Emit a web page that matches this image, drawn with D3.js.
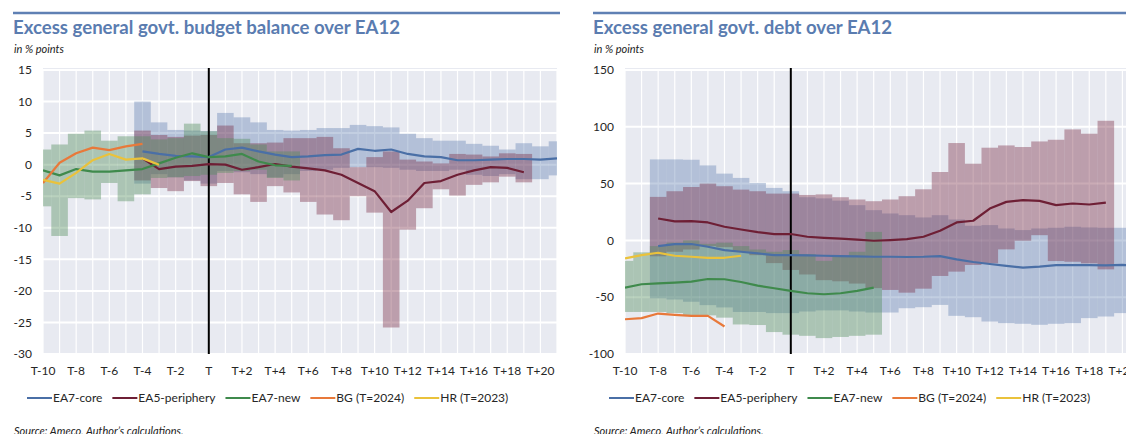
<!DOCTYPE html>
<html lang="en">
<head>
<meta charset="UTF-8">
<title>Excess general govt. budget balance and debt over EA12</title>
<script src="https://d3js.org/d3.v7.min.js"></script>
<style>
  body { margin: 0; background: #fff; font-family: Lato, "Open Sans", sans-serif; }
  .title { font-weight: 700; fill: #5a7cb0; font-size: 18.6px; }
  .unit { font-style: italic; fill: #222; font-size: 11px; }
  .source { font-style: italic; fill: #222; font-size: 11px; }
  .ylab, .xlab { fill: #262626; font-size: 12px; }
  .legend text { font-size: 12px; fill: #262626; }
</style>
</head>
<body>
<svg id="chart" width="1126" height="434"></svg>
<script>
// categories: years relative to euro adoption (T)
const periods = ["T-10","T-9","T-8","T-7","T-6","T-5","T-4","T-3","T-2","T-1","T",
  "T+1","T+2","T+3","T+4","T+5","T+6","T+7","T+8","T+9","T+10",
  "T+11","T+12","T+13","T+14","T+15","T+16","T+17","T+18","T+19","T+20","T+21"];
const tickLabels = ["T-10","T-8","T-6","T-4","T-2","T","T+2","T+4","T+6","T+8",
  "T+10","T+12","T+14","T+16","T+18","T+20"];
const seriesNames = ["EA7-core", "EA5-periphery", "EA7-new", "BG (T=2024)", "HR (T=2023)"];

// ---- budget balance (% points) ----
const balTicks = [-30, -25, -20, -15, -10, -5, 0, 5, 10, 15];
const balCoreStart = "T-4";
const balCoreMid = [2.1, 1.7, 1.4, 1.3, 1.2, 2.4, 2.7, 2.1, 1.6, 1.2, 1.3, 1.5, 1.6, 2.5, 2.2, 2.4, 1.7, 1.3, 1.2, 0.7, 0.7, 0.8, 0.9, 0.9, 0.8, 1.0];
const balCoreHi = [10.0, 6.7, 5.5, 5.4, 5.3, 8.2, 7.5, 6.7, 5.5, 5.4, 5.5, 5.8, 5.8, 6.3, 6.1, 5.9, 4.9, 4.2, 3.8, 3.8, 3.3, 3.0, 2.4, 3.4, 2.9, 3.7];
const balCoreLo = [-3.0, -1.5, -2.0, -2.5, -3.0, -1.0, -1.2, -1.5, -2.0, -1.5, -1.0, -0.8, -0.5, -0.4, -0.4, -0.5, -0.8, -1.0, -1.0, -0.8, -1.6, -1.8, -1.5, -2.3, -2.3, -1.7];
const balPeriStart = "T-4";
const balPeriMid = [1.0, -0.7, -0.3, -0.2, 0.1, 0.0, -0.8, -0.4, 0.1, -0.3, -0.6, -0.9, -1.6, -2.9, -4.2, -7.5, -5.7, -2.9, -2.6, -1.6, -0.9, -0.4, -0.5, -1.2];
const balPeriHi = [5.4, 4.7, 4.4, 4.6, 4.7, 6.2, 3.4, 3.4, 3.5, 4.2, 4.2, 4.4, 2.6, -0.4, 1.2, 2.1, 0.8, 0.5, 0.2, 1.7, 1.6, 1.3, 1.8, 1.7];
const balPeriLo = [-2.5, -3.7, -4.2, -2.6, -3.4, -2.9, -4.7, -5.9, -3.4, -4.4, -5.9, -7.9, -8.8, -5.0, -7.6, -25.8, -10.3, -6.9, -3.9, -4.9, -3.2, -2.8, -1.9, -2.8];
const balNewStart = "T-10";
const balNewMid = [-0.9, -1.7, -0.7, -1.1, -1.1, -0.9, -0.7, 0.2, 1.1, 1.8, 1.2, 1.3, 1.7, 0.5, -0.1, -0.2];
const balNewHi = [2.4, 3.2, 4.9, 5.4, 3.8, 4.5, 4.5, 4.0, 4.2, 6.5, 5.3, 4.2, 4.1, 3.2, 2.1, 2.1];
const balNewLo = [-6.6, -11.3, -5.3, -5.5, -2.9, -5.8, -4.7, -2.1, -2.0, -1.8, -1.6, -1.3, -1.0, -0.8, -2.1, -2.5];
const balBgStart = "T-10";
const balBg = [-2.9, 0.3, 1.8, 2.7, 2.3, 2.9, 3.3];
const balHrStart = "T-10";
const balHr = [-2.4, -3.0, -1.3, 0.7, 1.7, 0.8, 1.0, 0.0];

// ---- debt (% points) ----
const debtTicks = [-100, -50, 0, 50, 100, 150];
const debtCoreStart = "T-8";
const debtCoreMid = [-5, -3.2, -3.2, -5.6, -8.5, -10, -11.4, -12.9, -12.9, -13.2, -13.5, -13.8, -14, -14.4, -14.4, -14.6, -14.4, -13.8, -16.7, -19, -20.8, -22.5, -24, -23.1, -21.7, -21.7, -21.7, -22, -21.5, -23];
const debtCoreHi = [71.3, 71.3, 71, 66, 58.8, 55, 50.6, 46.2, 43.3, 38, 37, 35, 31, 26.6, 23.7, 22.2, 20.2, 22.2, 18.4, 12.9, 13.5, 10.5, 9.1, 10.5, 11.1, 12, 11.4, 11.1, 11.1, 11.1];
const debtCoreLo = [-51, -52, -54, -57, -59, -63, -63, -64, -64, -62.6, -61.6, -61.6, -62.6, -63.5, -63.5, -59.7, -58.8, -56.8, -66.4, -67.6, -71.4, -72.8, -73.4, -74.3, -73.4, -72.8, -68.4, -67, -64, -64];
const debtPeriStart = "T-8";
const debtPeriMid = [19.3, 16.7, 17, 15.8, 12, 9.6, 7.3, 5.6, 5.6, 3.2, 2.3, 1.5, 0.6, -0.3, 0.3, 1.2, 3.2, 8.5, 15.8, 17.3, 28, 33.9, 35.4, 34.8, 31, 32.5, 31.6, 33.3];
const debtPeriHi = [38.3, 43.3, 47, 50, 47.7, 44.7, 43.3, 41.2, 41.2, 40, 40.5, 38, 36, 34.5, 36, 38.9, 45, 60.2, 85.7, 67.5, 81.6, 83.6, 82.2, 87.1, 88.6, 97.7, 93.9, 105.3];
const debtPeriLo = [-14, -10, -8, -5, -6, -10, -13, -20, -26, -30, -35, -36, -38, -42, -43.6, -46, -42.5, -31.3, -27.5, -21.6, -20.2, -7.9, -0.3, 4.6, -18.2, -18.8, -20.2, -25.5];
const debtNewStart = "T-10";
const debtNewMid = [-41.6, -38.6, -37.8, -37.2, -36.3, -34, -34.2, -36.6, -39.8, -42.1, -44.5, -46.5, -47.4, -46.5, -44.5, -41.6];
const debtNewHi = [-18, -10.5, -5, -2, 0, -3, -2, -5, -8, -10, -8.5, -12, -18, -14, -10, 7.5];
const debtNewLo = [-63, -63, -63, -64, -66, -66, -68, -74, -74.5, -80.7, -83, -84, -86, -85, -84, -83];
const debtBgStart = "T-10";
const debtBg = [-69.4, -68.4, -64.4, -65.5, -66.4, -66.4, -75.8];
const debtHrStart = "T-10";
const debtHr = [-15.8, -12.9, -10.9, -13.5, -14.4, -15.3, -15.3, -13.5];

// styling
const lineColors = ["#4a6fa6", "#6e1f35", "#3f8a4c", "#e8793a", "#eac23b"];
const bandColors = ["#4f73a8", "#7a2e45", "#4f8c5a"];
const bandOpacity = [0.35, 0.4, 0.4];

const svg = d3.select("#chart");
const plotTop = 70, plotBottom = 354, plotWidth = 514;

// turn a start label + values into [{p, v}]
function points(start, values) {
  const i0 = periods.indexOf(start);
  return values.map((v, i) => ({ p: periods[i0 + i], v }));
}
function bandRows(start, hi, lo) {
  const i0 = periods.indexOf(start);
  return hi.map((h, i) => ({ p: periods[i0 + i], hi: h, lo: lo[i] }));
}

function drawPanel(cfg) {
  const ox = cfg.ox;
  const x0 = ox + cfg.plotLeft;
  const g = svg.append("g");

  // header rule, title, unit
  g.append("line")
    .attr("x1", ox + 13).attr("x2", ox + cfg.ruleEnd)
    .attr("y1", 13).attr("y2", 13)
    .attr("stroke", "#5f80b4").attr("stroke-width", 2.5);
  g.append("text").attr("class", "title")
    .attr("x", ox + 13).attr("y", 34).text(cfg.title);
  g.append("text").attr("class", "unit")
    .attr("x", ox + 14).attr("y", 53).text("in % points");

  const x = d3.scalePoint().domain(periods).range([x0, x0 + plotWidth]);
  const step = x.step();
  const y = d3.scaleLinear().domain(d3.extent(cfg.ticks)).range([plotBottom, plotTop]);

  const clipId = "clip" + ox;
  svg.append("clipPath").attr("id", clipId)
    .append("rect").attr("x", x0).attr("y", plotTop - 2)
    .attr("width", plotWidth).attr("height", plotBottom - plotTop + 2);

  // plot background + grid
  g.append("rect").attr("x", x0).attr("y", plotTop - 2)
    .attr("width", plotWidth).attr("height", plotBottom - plotTop + 2)
    .attr("fill", "#e8eaf1");
  g.append("g").selectAll("line").data(periods).join("line")
    .attr("x1", d => x(d)).attr("x2", d => x(d))
    .attr("y1", plotTop).attr("y2", plotBottom)
    .attr("stroke", "#fff").attr("stroke-width", 1.2);
  g.append("g").selectAll("line").data(cfg.ticks).join("line")
    .attr("x1", x0).attr("x2", x0 + plotWidth)
    .attr("y1", d => y(d)).attr("y2", d => y(d))
    .attr("stroke", "#fff").attr("stroke-width", 2);

  // min-max bands as columns
  const bands = g.append("g").attr("clip-path", `url(#${clipId})`);
  cfg.bands.forEach((b, i) => {
    bands.append("g").selectAll("rect").data(b).join("rect")
      .attr("x", d => x(d.p) - step / 2)
      .attr("width", step)
      .attr("y", d => y(d.hi))
      .attr("height", d => y(d.lo) - y(d.hi))
      .attr("fill", bandColors[i])
      .attr("fill-opacity", bandOpacity[i]);
  });

  // euro adoption marker
  g.append("line")
    .attr("x1", x("T")).attr("x2", x("T"))
    .attr("y1", plotTop - 2).attr("y2", plotBottom)
    .attr("stroke", "#000").attr("stroke-width", 2);

  // series lines
  const line = d3.line().x(d => x(d.p)).y(d => y(d.v));
  const lines = g.append("g").attr("clip-path", `url(#${clipId})`);
  cfg.lines.forEach((s, i) => {
    lines.append("path").datum(s)
      .attr("d", line)
      .attr("fill", "none")
      .attr("stroke", lineColors[i])
      .attr("stroke-width", 2.2)
      .attr("stroke-linejoin", "round");
  });

  // axis labels
  g.append("g").selectAll("text").data(cfg.ticks).join("text")
    .attr("class", "ylab")
    .attr("x", x0 - 11).attr("y", d => y(d)).attr("dy", "0.35em")
    .attr("text-anchor", "end").text(d => d);
  g.append("g").selectAll("text").data(tickLabels).join("text")
    .attr("class", "xlab")
    .attr("x", d => x(d)).attr("y", 375)
    .attr("text-anchor", "middle").text(d => d);

  // legend
  const leg = g.append("g").attr("class", "legend");
  let lx = ox + cfg.legendStart;
  seriesNames.forEach((name, i) => {
    leg.append("line").attr("x1", lx).attr("x2", lx + 25)
      .attr("y1", 398).attr("y2", 398)
      .attr("stroke", lineColors[i]).attr("stroke-width", 2);
    const t = leg.append("text").attr("x", lx + 26).attr("y", 402).text(name);
    lx += 26 + t.node().getComputedTextLength() + 10;
  });

  g.append("text").attr("class", "source")
    .attr("x", ox + 14).attr("y", 435)
    .text("Source: Ameco, Author\u2019s calculations.");
}

drawPanel({
  ox: 0, plotLeft: 43, ruleEnd: 560, legendStart: 27,
  title: "Excess general govt. budget balance over EA12",
  ticks: balTicks,
  bands: [
    bandRows(balCoreStart, balCoreHi, balCoreLo),
    bandRows(balPeriStart, balPeriHi, balPeriLo),
    bandRows(balNewStart, balNewHi, balNewLo)
  ],
  lines: [
    points(balCoreStart, balCoreMid),
    points(balPeriStart, balPeriMid),
    points(balNewStart, balNewMid),
    points(balBgStart, balBg),
    points(balHrStart, balHr)
  ]
});

drawPanel({
  ox: 580, plotLeft: 45, ruleEnd: 560, legendStart: 29,
  title: "Excess general govt. debt over EA12",
  ticks: debtTicks,
  bands: [
    bandRows(debtCoreStart, debtCoreHi, debtCoreLo),
    bandRows(debtPeriStart, debtPeriHi, debtPeriLo),
    bandRows(debtNewStart, debtNewHi, debtNewLo)
  ],
  lines: [
    points(debtCoreStart, debtCoreMid),
    points(debtPeriStart, debtPeriMid),
    points(debtNewStart, debtNewMid),
    points(debtBgStart, debtBg),
    points(debtHrStart, debtHr)
  ]
});
</script>
</body>
</html>
